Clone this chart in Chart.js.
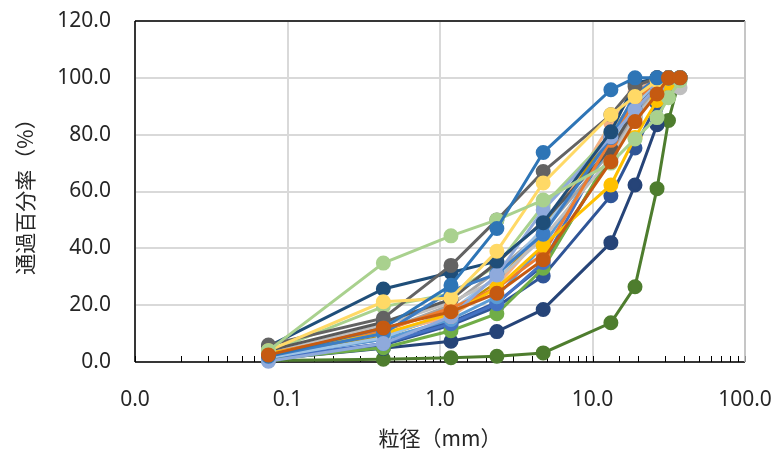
<!DOCTYPE html>
<html>
<head>
<meta charset="utf-8">
<script src="https://cdn.jsdelivr.net/npm/chart.js@4.4.1/dist/chart.umd.min.js"></script>
<style>
html,body{margin:0;padding:0;background:#fff;}
#wrap{width:774px;height:451px;position:relative;}
</style>
</head>
<body>
<div id="wrap"><canvas id="c" width="774" height="451"></canvas></div>
<script>
// sieve sizes (mm)
const sieveSizes = [0.075, 0.425, 1.18, 2.36, 4.75, 13.2, 19, 26.5, 31.5, 37.5];
const yTickValues = [0, 20, 40, 60, 80, 100, 120];
const xTitle = '粒径（mm）';
const yTitle = '通過百分率（%）';

// passing percentage per sample
const s01 = [0.5, 1.0, 1.5, 2.0, 3.2, 13.8, 26.5, 61.0, 85.0, 100];
const s02 = [1.0, 4.8, 7.3, 10.7, 18.5, 42.0, 62.3, 83.5, 97.0, 100];
const s03 = [1.5, 6.0, 13.0, 19.5, 30.3, 58.5, 75.3, 91.0, 97.5, 100];
const s04 = [2.0, 8.0, 14.0, 21.0, 34.0, 72.0, 88.0, 96.0, 100, 100];
const s05 = [1.0, 5.0, 11.0, 17.0, 33.0, 73.0, 86.0, 95.0, 100, 100];
const s06 = [3.0, 11.0, 20.0, 32.0, 46.0, 74.0, 87.0, 96.0, 99.0, 100];
const s07 = [2.0, 9.0, 17.0, 28.0, 47.0, 80.0, 93.0, 99.0, 100, 100];
const s08 = [1.5, 6.5, 13.5, 20.5, 35.0, 78.0, 91.0, 98.0, 100, 100];
const s09 = [2.0, 8.0, 15.0, 23.0, 41.0, 76.0, 90.0, 98.0, 100, 100];
const s10 = [2.5, 10.0, 16.0, 27.0, 45.0, 84.0, 95.0, 100, 100, 100];
const s11 = [3.5, 19.5, 24.0, 34.0, 55.0, 80.0, 92.0, 99.0, 100, 100];
const s12 = [1.5, 8.5, 18.0, 30.0, 47.0, 77.0, 90.0, 99.0, 100, 100];
const s13 = [3.0, 13.0, 21.0, 29.0, 43.6, 72.0, 86.0, 95.0, 98.0, 96.5];
const s14 = [4.0, 14.0, 22.0, 35.0, 49.4, 75.0, 89.0, 97.0, 100, 100];
const s15 = [3.0, 11.0, 19.0, 26.0, 38.0, 78.0, 92.0, 99.0, 100, 100];
const s16 = [3.0, 10.0, 17.0, 26.0, 41.0, 62.3, 79.0, 92.0, 98.0, 100];
const s17 = [2.0, 10.0, 25.0, 31.0, 45.0, 79.0, 94.0, 100, 100, 100];
const s18 = [0.3, 6.5, 16.0, 30.6, 53.5, 79.3, 88.7, 97.0, 100, 100];
const s19 = [5.5, 25.7, 31.5, 35.5, 49.0, 81.0, 98.0, 100, 100, 100];
const s20 = [6.0, 15.4, 34.0, 50.0, 67.0, 87.0, 97.0, 100, 100, 100];
const s21 = [4.0, 21.2, 22.5, 39.0, 63.0, 87.0, 93.4, 99.0, 100, 100];
const s22 = [4.0, 34.8, 44.4, 50.0, 57.0, 70.0, 78.5, 86.0, 93.0, 99.0];
const s23 = [2.0, 12.0, 27.0, 47.0, 73.7, 95.8, 100, 100, 100, 100];
const s24 = [2.5, 12.0, 17.7, 24.2, 36.0, 70.5, 84.6, 94.3, 100, 100];

// listed bottom-most first; the last entry is drawn on top
const seriesList = [
  ['s01', '#4E7D2E', s01], ['s02', '#264478', s02], ['s03', '#2F5597', s03],
  ['s04', '#335AA1', s04], ['s05', '#70AD47', s05], ['s06', '#A5A5A5', s06],
  ['s07', '#BF9000', s07], ['s08', '#4472C4', s08], ['s09', '#5B9BD5', s09],
  ['s10', '#F4B183', s10], ['s11', '#A9D18E', s11], ['s12', '#9DC3E6', s12],
  ['s13', '#BFBFBF', s13], ['s14', '#595959', s14], ['s15', '#ED7D31', s15],
  ['s16', '#FFC000', s16], ['s17', '#3C7DC4', s17], ['s18', '#8FAADC', s18],
  ['s19', '#1F4E79', s19], ['s20', '#636363', s20], ['s21', '#FFD966', s21],
  ['s22', '#A9D18E', s22], ['s23', '#2E75B6', s23], ['s24', '#C55A11', s24]
];

// Chart.js paints lower dataset indexes on top, so reverse the list
const datasets = seriesList.slice().reverse().map(([name, color, vals]) => ({
  label: name,
  data: sieveSizes.map((x, i) => ({x: x, y: vals[i]})),
  showLine: true,
  borderColor: color,
  backgroundColor: color,
  pointBackgroundColor: color,
  pointBorderColor: color,
  borderWidth: 3,
  pointRadius: 6,
  pointHoverRadius: 6,
  tension: 0,
  clip: false
}));

function isDecade(v) {
  const l = Math.log10(v);
  return Math.abs(l - Math.round(l)) < 1e-6;
}

const framePlugin = {
  id: 'frame',
  beforeDatasetsDraw(chart) {
    const {ctx, chartArea: a, scales} = chart;
    ctx.save();
    ctx.strokeStyle = '#000';
    ctx.lineWidth = 1;
    scales.x.ticks.forEach(t => {
      const px = Math.round(scales.x.getPixelForValue(t.value)) + 0.5;
      ctx.beginPath();
      ctx.moveTo(px, a.bottom);
      ctx.lineTo(px, a.bottom - 6);
      ctx.stroke();
    });
    ctx.lineWidth = 1.5;
    ctx.beginPath();
    ctx.moveTo(a.left, a.top);
    ctx.lineTo(a.right, a.top);
    ctx.moveTo(a.left, a.top);
    ctx.lineTo(a.left, a.bottom);
    ctx.moveTo(a.left, a.bottom);
    ctx.lineTo(a.right, a.bottom);
    ctx.stroke();
    ctx.strokeStyle = '#bfbfbf';
    ctx.beginPath();
    ctx.moveTo(a.right, a.top);
    ctx.lineTo(a.right, a.bottom);
    ctx.stroke();
    ctx.restore();
  }
};

const tickFont = {family: '"Noto Sans", sans-serif', size: 21};
const titleFont = {family: '"Noto Sans CJK JP", sans-serif', size: 21};

new Chart(document.getElementById('c'), {
  type: 'scatter',
  data: {datasets},
  options: {
    responsive: false,
    animation: false,
    events: [],
    layout: {padding: {top: 21, right: 29, left: 0, bottom: 0}},
    plugins: {legend: {display: false}, tooltip: {enabled: false}},
    scales: {
      x: {
        type: 'logarithmic',
        min: 0.01,
        max: 100,
        afterFit: s => { s.height = 89; s.paddingLeft = 0; s.paddingRight = 0; },
        border: {display: false},
        grid: {
          drawTicks: false,
          color: ctx => (ctx.tick && isDecade(ctx.tick.value)) ? '#d9d9d9' : 'rgba(0,0,0,0)',
          lineWidth: 2
        },
        ticks: {
          autoSkip: false,
          maxRotation: 0,
          padding: 25,
          color: '#262626',
          font: tickFont,
          callback: function(v) { return isDecade(v) ? Number(v).toFixed(1) : ''; }
        },
        title: {display: true, text: xTitle, color: '#262626', font: titleFont, padding: {top: 6, bottom: 0}}
      },
      y: {
        min: 0,
        max: 120,
        afterFit: s => { s.width = 135; s.paddingTop = 0; s.paddingBottom = 0; },
        afterBuildTicks: s => { s.ticks = yTickValues.map(v => ({value: v})); },
        border: {display: false},
        grid: {drawTicks: false, color: '#d9d9d9', lineWidth: 2},
        ticks: {
          padding: 24,
          color: '#262626',
          font: tickFont,
          callback: v => Number(v).toFixed(1)
        },
        title: {display: true, text: yTitle, color: '#262626', font: titleFont, padding: {top: 12, bottom: 0}}
      }
    }
  },
  plugins: [framePlugin]
});
</script>
</body>
</html>
